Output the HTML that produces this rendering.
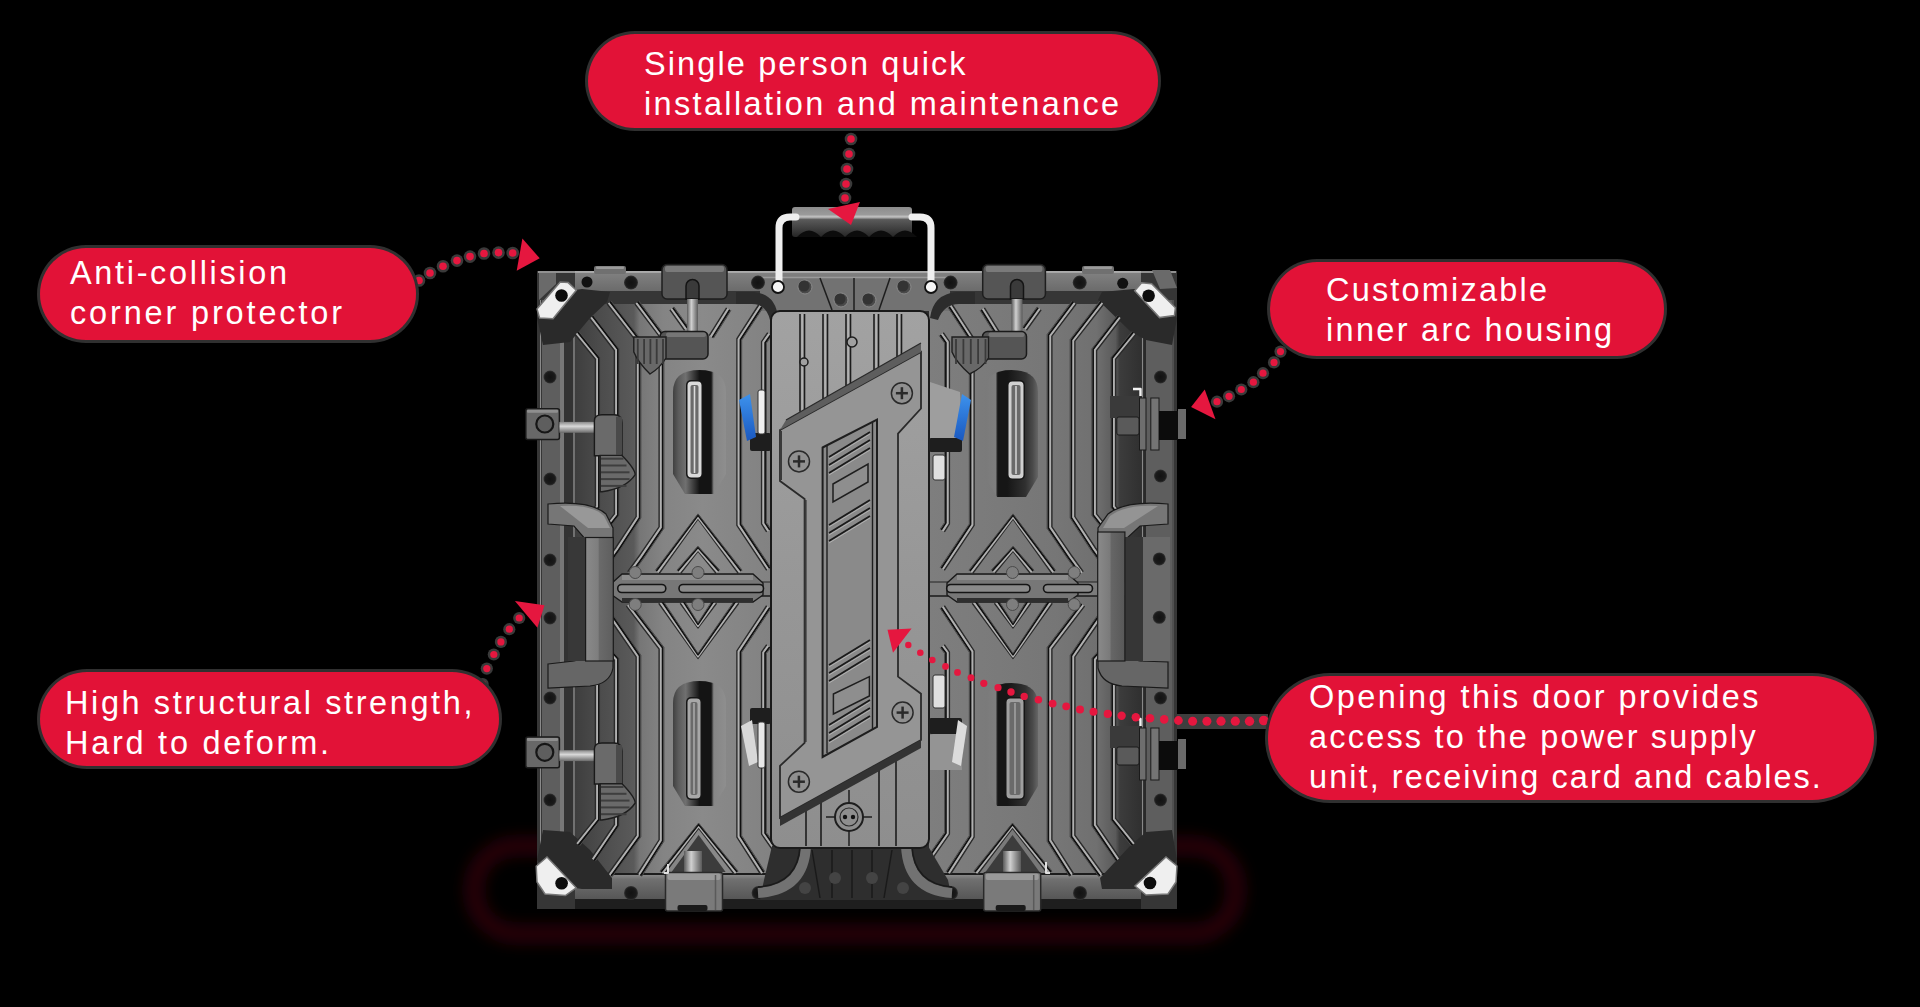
<!DOCTYPE html>
<html><head><meta charset="utf-8">
<style>
html,body{margin:0;padding:0;background:#000;width:1920px;height:1007px;overflow:hidden;}
#stage{position:relative;width:1920px;height:1007px;background:#000;}
svg{position:absolute;left:0;top:0;}
.pill{position:absolute;background:#e21237;border-radius:999px;box-shadow:0 0 0 3px #303030;}
.t{position:absolute;font-family:"Liberation Sans",sans-serif;font-size:32.5px;color:#fff;white-space:pre;line-height:40px;}
.t div{height:40px;}
</style></head><body><div id="stage">
<svg width="1920" height="1007" viewBox="0 0 1920 1007">
<defs>
<filter id="glow" x="-30%" y="-100%" width="160%" height="300%"><feGaussianBlur stdDeviation="9"/></filter>
<filter id="b1" x="-20%" y="-20%" width="140%" height="140%"><feGaussianBlur stdDeviation="1.2"/></filter>
<filter id="b2" x="-30%" y="-30%" width="160%" height="160%"><feGaussianBlur stdDeviation="2.5"/></filter>
<filter id="b4" x="-30%" y="-30%" width="160%" height="160%"><feGaussianBlur stdDeviation="5"/></filter>
<linearGradient id="doorg" x1="0" y1="0" x2="0" y2="1"><stop offset="0" stop-color="#a2a2a2"/><stop offset="0.5" stop-color="#979797"/><stop offset="1" stop-color="#8e8e8e"/></linearGradient>
<linearGradient id="panelL" x1="575" y1="0" x2="771" y2="0" gradientUnits="userSpaceOnUse"><stop offset="0" stop-color="#3e3e3e"/><stop offset="0.13" stop-color="#4c4c4c"/><stop offset="0.3" stop-color="#5a5a5a"/><stop offset="0.33" stop-color="#767676"/><stop offset="0.45" stop-color="#848484"/><stop offset="0.65" stop-color="#8a8a8a"/><stop offset="1" stop-color="#828282"/></linearGradient>
<linearGradient id="panelR" x1="929" y1="0" x2="1141" y2="0" gradientUnits="userSpaceOnUse"><stop offset="0" stop-color="#7e7e7e"/><stop offset="0.33" stop-color="#7a7a7a"/><stop offset="0.6" stop-color="#767676"/><stop offset="0.79" stop-color="#707070"/><stop offset="0.83" stop-color="#666"/><stop offset="0.88" stop-color="#5a5a5a"/><stop offset="0.9" stop-color="#3c3c3c"/><stop offset="1" stop-color="#303030"/></linearGradient>
<linearGradient id="railT" x1="0" y1="0" x2="0" y2="1"><stop offset="0" stop-color="#a6a6a6"/><stop offset="0.1" stop-color="#808080"/><stop offset="1" stop-color="#6a6a6a"/></linearGradient>
<linearGradient id="railB" x1="0" y1="0" x2="0" y2="1"><stop offset="0" stop-color="#8e8e8e"/><stop offset="0.2" stop-color="#707070"/><stop offset="1" stop-color="#555"/></linearGradient>
<linearGradient id="hbar" x1="0" y1="0" x2="0" y2="1"><stop offset="0" stop-color="#8c8c8c"/><stop offset="0.25" stop-color="#9a9a9a"/><stop offset="0.33" stop-color="#c4c4c4"/><stop offset="0.42" stop-color="#5a5a5a"/><stop offset="1" stop-color="#262626"/></linearGradient>
<linearGradient id="blue" x1="0" y1="0" x2="0" y2="1"><stop offset="0" stop-color="#3d92ec"/><stop offset="1" stop-color="#1a58c0"/></linearGradient>
<linearGradient id="slotL" x1="0" y1="0" x2="1" y2="0"><stop offset="0" stop-color="#404040"/><stop offset="0.1" stop-color="#5a5a5a"/><stop offset="0.24" stop-color="#707070"/><stop offset="0.5" stop-color="#141414"/><stop offset="0.72" stop-color="#141414"/><stop offset="0.77" stop-color="#868686"/><stop offset="1" stop-color="#8e8e8e"/></linearGradient>
<linearGradient id="slotR" x1="0" y1="0" x2="1" y2="0"><stop offset="0" stop-color="#7a7a7a"/><stop offset="0.2" stop-color="#7e7e7e"/><stop offset="0.24" stop-color="#161616"/><stop offset="0.42" stop-color="#161616"/><stop offset="0.76" stop-color="#303030"/><stop offset="0.9" stop-color="#4a4a4a"/><stop offset="1" stop-color="#666"/></linearGradient>
<linearGradient id="cyl" x1="0" y1="0" x2="1" y2="0"><stop offset="0" stop-color="#5a5a5a"/><stop offset="0.4" stop-color="#d0d0d0"/><stop offset="1" stop-color="#5a5a5a"/></linearGradient>
<linearGradient id="cylV" x1="0" y1="0" x2="0" y2="1"><stop offset="0" stop-color="#8a8a8a"/><stop offset="0.4" stop-color="#d8d8d8"/><stop offset="1" stop-color="#6a6a6a"/></linearGradient>
<linearGradient id="hgripL" x1="0" y1="0" x2="1" y2="0"><stop offset="0" stop-color="#8a8a8a"/><stop offset="0.45" stop-color="#7e7e7e"/><stop offset="0.5" stop-color="#6a6a6a"/><stop offset="1" stop-color="#5e5e5e"/></linearGradient>
<linearGradient id="hgripR" x1="0" y1="0" x2="1" y2="0"><stop offset="0" stop-color="#8a8a8a"/><stop offset="0.45" stop-color="#7a7a7a"/><stop offset="0.5" stop-color="#666"/><stop offset="1" stop-color="#585858"/></linearGradient>
<radialGradient id="hole"><stop offset="0" stop-color="#121212"/><stop offset="0.75" stop-color="#1a1a1a"/><stop offset="1" stop-color="#333"/></radialGradient>
</defs>
<rect x="474" y="846" width="762" height="88" rx="42" fill="none" stroke="#6a0016" stroke-width="12" opacity="0.6" filter="url(#glow)"/>
<rect x="537" y="271" width="640" height="638" rx="0" fill="#2e2e2e" />
<rect x="575" y="292" width="197" height="584" rx="0" fill="url(#panelL)" />
<rect x="929" y="292" width="212" height="584" rx="0" fill="url(#panelR)" />
<rect x="537" y="271" width="640" height="21" rx="0" fill="url(#railT)" />
<rect x="575" y="291" width="566" height="13" rx="0" fill="#363636" />
<rect x="537" y="874" width="640" height="26" rx="0" fill="url(#railB)" />
<rect x="537" y="899" width="640" height="10" rx="0" fill="#1e1e1e" />
<polyline points="575,874 1141,874" fill="none" stroke="#1c1c1c" stroke-width="2" stroke-linejoin="round" />
<rect x="537" y="271" width="38" height="638" rx="0" fill="#363636" />
<rect x="542" y="300" width="18" height="572" rx="0" fill="#5e5e5e" />
<rect x="560" y="300" width="4" height="572" rx="0" fill="#787878" />
<rect x="564" y="300" width="9" height="572" rx="0" fill="#333" />
<polyline points="540.5,300 540.5,870" fill="none" stroke="#8a8a8a" stroke-width="1" stroke-linejoin="round" />
<polyline points="574,300 574,872" fill="none" stroke="#9a9a9a" stroke-width="1.2" stroke-linejoin="round" />
<rect x="1141" y="271" width="36" height="638" rx="0" fill="#363636" />
<rect x="1146" y="300" width="26" height="572" rx="0" fill="#5e5e5e" />
<rect x="1141" y="300" width="5" height="572" rx="0" fill="#2a2a2a" />
<polyline points="1142.5,300 1142.5,872" fill="none" stroke="#888" stroke-width="1.2" stroke-linejoin="round" />
<polyline points="1173,300 1173,872" fill="none" stroke="#6a6a6a" stroke-width="1" stroke-linejoin="round" />
<polyline points="538,272 1176,272" fill="none" stroke="#b0b0b0" stroke-width="1.5" stroke-linejoin="round" />
<rect x="594" y="266" width="32" height="8" rx="2" fill="#707070" />
<rect x="596" y="266.5" width="28" height="2.5" rx="1" fill="#9a9a9a" />
<rect x="1082" y="266" width="32" height="8" rx="2" fill="#707070" />
<rect x="1084" y="266.5" width="28" height="2.5" rx="1" fill="#9a9a9a" />
<rect x="760" y="277" width="190" height="34" rx="0" fill="#727272" />
<polyline points="760,277.5 950,277.5" fill="none" stroke="#9a9a9a" stroke-width="1.5" stroke-linejoin="round" />
<path d="M 736 292 L 754 292 Q 776 294 778 318 L 770 320 Q 766 304 752 304 L 736 304 Z" fill="#2c2c2c" stroke="none" stroke-width="0" />
<path d="M 975 292 L 957 292 Q 933 294 930 318 L 938 320 Q 944 304 959 304 L 975 304 Z" fill="#2c2c2c" stroke="none" stroke-width="0" />
<polygon points="537,318 562,292 582,289 610,292 607,302 590,318 570,342 543,345" fill="#2a2a2a" />
<polygon points="1177,318 1152,292 1134,289 1102,292 1098,300 1130,331 1146,340 1172,345" fill="#2a2a2a" />
<polygon points="537,860 562,886 582,889 612,889 612,878 590,850 570,832 543,830" fill="#2a2a2a" />
<polygon points="1177,860 1152,886 1134,889 1102,889 1100,878 1130,846 1146,832 1172,830" fill="#2a2a2a" />
<polyline points="575.2,334.6 595.5,359.3 595.5,505.9 585.8,517.8" fill="none" stroke="#2a2a2a" stroke-width="1.6" stroke-linejoin="round" />
<polyline points="576.6,333.4 597.2,358.7 597.2,506.5 587.2,518.9" fill="none" stroke="#b0b0b0" stroke-width="2.1" stroke-linejoin="round" />
<polyline points="577.9,332.3 598.9,358.1 598.9,507.1 588.6,520.1" fill="none" stroke="#101010" stroke-width="1.7" stroke-linejoin="round" />
<polyline points="579,331.5 600.1,357.6 600.1,507.5 589.6,520.9" fill="none" stroke="#4a4a4a" stroke-width="1.0" stroke-linejoin="round" />
<polyline points="1135.8,334.6 1115.5,359.3 1115.5,505.9 1125.2,517.8" fill="none" stroke="#2a2a2a" stroke-width="1.6" stroke-linejoin="round" />
<polyline points="1134.4,333.4 1113.8,358.7 1113.8,506.5 1123.8,518.9" fill="none" stroke="#b0b0b0" stroke-width="2.1" stroke-linejoin="round" />
<polyline points="1133.1,332.3 1112.1,358.1 1112.1,507.1 1122.4,520.1" fill="none" stroke="#101010" stroke-width="1.7" stroke-linejoin="round" />
<polyline points="1132,331.5 1110.9,357.6 1110.9,507.5 1121.4,520.9" fill="none" stroke="#4a4a4a" stroke-width="1.0" stroke-linejoin="round" />
<polyline points="589.8,318.5 614.5,350.5 614.5,513.9 601.8,529.8" fill="none" stroke="#2a2a2a" stroke-width="1.6" stroke-linejoin="round" />
<polyline points="591.2,317.4 616.2,349.9 616.2,514.5 603.2,530.9" fill="none" stroke="#b0b0b0" stroke-width="2.1" stroke-linejoin="round" />
<polyline points="592.6,316.3 617.9,349.3 617.9,515.1 604.6,532.1" fill="none" stroke="#101010" stroke-width="1.7" stroke-linejoin="round" />
<polyline points="593.6,315.5 619.2,348.9 619.1,515.5 605.6,532.9" fill="none" stroke="#4a4a4a" stroke-width="1.0" stroke-linejoin="round" />
<polyline points="1121.2,318.5 1096.5,350.5 1096.5,513.9 1109.2,529.8" fill="none" stroke="#2a2a2a" stroke-width="1.6" stroke-linejoin="round" />
<polyline points="1119.8,317.4 1094.8,349.9 1094.8,514.5 1107.8,530.9" fill="none" stroke="#b0b0b0" stroke-width="2.1" stroke-linejoin="round" />
<polyline points="1118.4,316.3 1093.1,349.3 1093.1,515.1 1106.4,532.1" fill="none" stroke="#101010" stroke-width="1.7" stroke-linejoin="round" />
<polyline points="1117.4,315.5 1091.8,348.9 1091.9,515.5 1105.4,532.9" fill="none" stroke="#4a4a4a" stroke-width="1.0" stroke-linejoin="round" />
<polyline points="607.3,303.9 636.2,341.1 636.2,516.6 615.8,547.8 602.8,565.8" fill="none" stroke="#2a2a2a" stroke-width="1.6" stroke-linejoin="round" />
<polyline points="608.7,302.8 637.9,340.5 637.9,517.1 617.2,548.9 604.2,566.9" fill="none" stroke="#b0b0b0" stroke-width="2.1" stroke-linejoin="round" />
<polyline points="610.1,301.7 639.6,339.9 639.7,517.6 618.7,549.9 605.7,567.9" fill="none" stroke="#101010" stroke-width="1.7" stroke-linejoin="round" />
<polyline points="611.1,300.9 640.9,339.5 640.9,518 619.8,550.6 606.7,568.7" fill="none" stroke="#4a4a4a" stroke-width="1.0" stroke-linejoin="round" />
<polyline points="1103.7,303.9 1074.8,341.1 1074.8,516.6 1095.2,547.8 1108.2,565.8" fill="none" stroke="#2a2a2a" stroke-width="1.6" stroke-linejoin="round" />
<polyline points="1102.3,302.8 1073.1,340.5 1073.1,517.1 1093.8,548.9 1106.8,566.9" fill="none" stroke="#b0b0b0" stroke-width="2.1" stroke-linejoin="round" />
<polyline points="1100.9,301.7 1071.4,339.9 1071.3,517.6 1092.3,549.9 1105.3,567.9" fill="none" stroke="#101010" stroke-width="1.7" stroke-linejoin="round" />
<polyline points="1099.9,300.9 1070.1,339.5 1070.1,518 1091.2,550.6 1104.3,568.7" fill="none" stroke="#4a4a4a" stroke-width="1.0" stroke-linejoin="round" />
<polyline points="635,303.9 659.2,336.1 659.2,526.9 639.8,555.3 627.8,571.8" fill="none" stroke="#2a2a2a" stroke-width="1.6" stroke-linejoin="round" />
<polyline points="636.4,302.8 660.9,335.5 660.9,527.4 641.2,556.4 629.2,572.9" fill="none" stroke="#b0b0b0" stroke-width="2.1" stroke-linejoin="round" />
<polyline points="637.8,301.7 662.6,335 662.7,528 642.7,557.4 630.7,573.9" fill="none" stroke="#101010" stroke-width="1.7" stroke-linejoin="round" />
<polyline points="638.9,300.9 663.9,334.5 663.9,528.4 643.8,558.2 631.7,574.7" fill="none" stroke="#4a4a4a" stroke-width="1.0" stroke-linejoin="round" />
<polyline points="1076,303.9 1051.8,336.1 1051.8,526.9 1071.2,555.3 1083.2,571.8" fill="none" stroke="#2a2a2a" stroke-width="1.6" stroke-linejoin="round" />
<polyline points="1074.6,302.8 1050.1,335.5 1050.1,527.4 1069.8,556.4 1081.8,572.9" fill="none" stroke="#b0b0b0" stroke-width="2.1" stroke-linejoin="round" />
<polyline points="1073.2,301.7 1048.4,335 1048.3,528 1068.3,557.4 1080.3,573.9" fill="none" stroke="#101010" stroke-width="1.7" stroke-linejoin="round" />
<polyline points="1072.1,300.9 1047.1,334.5 1047.1,528.4 1067.2,558.2 1079.3,574.7" fill="none" stroke="#4a4a4a" stroke-width="1.0" stroke-linejoin="round" />
<polyline points="670,309.8 684.6,330.2" fill="none" stroke="#2a2a2a" stroke-width="1.6" stroke-linejoin="round" />
<polyline points="671.4,308.7 686,329.1" fill="none" stroke="#b0b0b0" stroke-width="2.1" stroke-linejoin="round" />
<polyline points="672.9,307.7 687.5,328.1" fill="none" stroke="#101010" stroke-width="1.7" stroke-linejoin="round" />
<polyline points="673.9,306.9 688.5,327.3" fill="none" stroke="#4a4a4a" stroke-width="1.0" stroke-linejoin="round" />
<polyline points="1041,309.8 1026.4,330.2" fill="none" stroke="#2a2a2a" stroke-width="1.6" stroke-linejoin="round" />
<polyline points="1039.6,308.7 1025,329.1" fill="none" stroke="#b0b0b0" stroke-width="2.1" stroke-linejoin="round" />
<polyline points="1038.1,307.7 1023.5,328.1" fill="none" stroke="#101010" stroke-width="1.7" stroke-linejoin="round" />
<polyline points="1037.1,306.9 1022.5,327.3" fill="none" stroke="#4a4a4a" stroke-width="1.0" stroke-linejoin="round" />
<polyline points="726.7,307.8 709.3,335.6" fill="none" stroke="#2a2a2a" stroke-width="1.6" stroke-linejoin="round" />
<polyline points="728.3,308.8 710.9,336.6" fill="none" stroke="#b0b0b0" stroke-width="2.1" stroke-linejoin="round" />
<polyline points="729.8,309.8 712.4,337.6" fill="none" stroke="#101010" stroke-width="1.7" stroke-linejoin="round" />
<polyline points="730.9,310.4 713.5,338.2" fill="none" stroke="#4a4a4a" stroke-width="1.0" stroke-linejoin="round" />
<polyline points="984.3,307.8 1001.7,335.6" fill="none" stroke="#2a2a2a" stroke-width="1.6" stroke-linejoin="round" />
<polyline points="982.7,308.8 1000.1,336.6" fill="none" stroke="#b0b0b0" stroke-width="2.1" stroke-linejoin="round" />
<polyline points="981.2,309.8 998.6,337.6" fill="none" stroke="#101010" stroke-width="1.7" stroke-linejoin="round" />
<polyline points="980.1,310.4 997.5,338.2" fill="none" stroke="#4a4a4a" stroke-width="1.0" stroke-linejoin="round" />
<polyline points="758.7,305 737,338.7 737,525.4 766.8,570.2" fill="none" stroke="#2a2a2a" stroke-width="1.6" stroke-linejoin="round" />
<polyline points="760.3,306 738.7,339.2 738.7,524.9 768.2,569.2" fill="none" stroke="#b0b0b0" stroke-width="2.1" stroke-linejoin="round" />
<polyline points="761.8,307 740.5,339.7 740.5,524.3 769.7,568.2" fill="none" stroke="#101010" stroke-width="1.7" stroke-linejoin="round" />
<polyline points="762.9,307.7 741.7,340.1 741.7,524 770.8,567.5" fill="none" stroke="#4a4a4a" stroke-width="1.0" stroke-linejoin="round" />
<polyline points="952.3,305 974,338.7 974,525.4 944.2,570.2" fill="none" stroke="#2a2a2a" stroke-width="1.6" stroke-linejoin="round" />
<polyline points="950.7,306 972.3,339.2 972.3,524.9 942.8,569.2" fill="none" stroke="#b0b0b0" stroke-width="2.1" stroke-linejoin="round" />
<polyline points="949.2,307 970.5,339.7 970.5,524.3 941.3,568.2" fill="none" stroke="#101010" stroke-width="1.7" stroke-linejoin="round" />
<polyline points="948.1,307.7 969.3,340.1 969.3,524 940.2,567.5" fill="none" stroke="#4a4a4a" stroke-width="1.0" stroke-linejoin="round" />
<polyline points="767.8,332.8 761.7,341.6 761.7,523.9 766.7,531.9" fill="none" stroke="#2a2a2a" stroke-width="1.6" stroke-linejoin="round" />
<polyline points="769.2,333.9 763.4,342.1 763.4,523.4 768.3,530.9" fill="none" stroke="#b0b0b0" stroke-width="2.1" stroke-linejoin="round" />
<polyline points="770.7,334.9 765.2,342.7 765.2,522.9 769.8,529.9" fill="none" stroke="#101010" stroke-width="1.7" stroke-linejoin="round" />
<polyline points="771.8,335.6 766.4,343.1 766.4,522.5 770.9,529.2" fill="none" stroke="#4a4a4a" stroke-width="1.0" stroke-linejoin="round" />
<polyline points="943.2,332.8 949.3,341.6 949.3,523.9 944.3,531.9" fill="none" stroke="#2a2a2a" stroke-width="1.6" stroke-linejoin="round" />
<polyline points="941.8,333.9 947.6,342.1 947.6,523.4 942.7,530.9" fill="none" stroke="#b0b0b0" stroke-width="2.1" stroke-linejoin="round" />
<polyline points="940.3,334.9 945.8,342.7 945.8,522.9 941.2,529.9" fill="none" stroke="#101010" stroke-width="1.7" stroke-linejoin="round" />
<polyline points="939.2,335.6 944.6,343.1 944.6,522.5 940.1,529.2" fill="none" stroke="#4a4a4a" stroke-width="1.0" stroke-linejoin="round" />
<polyline points="583.8,672.2 595.5,686.1 595.5,818.4 575.8,842.8" fill="none" stroke="#2a2a2a" stroke-width="1.6" stroke-linejoin="round" />
<polyline points="585.1,671 597.2,685.5 597.2,819 577.2,843.9" fill="none" stroke="#b0b0b0" stroke-width="2.1" stroke-linejoin="round" />
<polyline points="586.5,669.9 598.9,684.9 598.9,819.6 578.6,845.1" fill="none" stroke="#101010" stroke-width="1.7" stroke-linejoin="round" />
<polyline points="587.5,669 600.1,684.4 600.1,820 579.6,845.9" fill="none" stroke="#4a4a4a" stroke-width="1.0" stroke-linejoin="round" />
<polyline points="1127.2,672.2 1115.5,686.1 1115.5,818.4 1135.2,842.8" fill="none" stroke="#2a2a2a" stroke-width="1.6" stroke-linejoin="round" />
<polyline points="1125.9,671 1113.8,685.5 1113.8,819 1133.8,843.9" fill="none" stroke="#b0b0b0" stroke-width="2.1" stroke-linejoin="round" />
<polyline points="1124.5,669.9 1112.1,684.9 1112.1,819.6 1132.4,845.1" fill="none" stroke="#101010" stroke-width="1.7" stroke-linejoin="round" />
<polyline points="1123.5,669 1110.9,684.4 1110.9,820 1131.4,845.9" fill="none" stroke="#4a4a4a" stroke-width="1.0" stroke-linejoin="round" />
<polyline points="601.8,646.2 614.5,660.1 614.5,824.5 591.4,858.3" fill="none" stroke="#2a2a2a" stroke-width="1.6" stroke-linejoin="round" />
<polyline points="603.1,645 616.2,659.5 616.2,825 592.8,859.3" fill="none" stroke="#b0b0b0" stroke-width="2.1" stroke-linejoin="round" />
<polyline points="604.4,643.8 617.9,658.8 618,825.6 594.3,860.4" fill="none" stroke="#101010" stroke-width="1.7" stroke-linejoin="round" />
<polyline points="605.4,642.9 619.1,658.3 619.2,826 595.4,861.1" fill="none" stroke="#4a4a4a" stroke-width="1.0" stroke-linejoin="round" />
<polyline points="1109.2,646.2 1096.5,660.1 1096.5,824.5 1119.6,858.3" fill="none" stroke="#2a2a2a" stroke-width="1.6" stroke-linejoin="round" />
<polyline points="1107.9,645 1094.8,659.5 1094.8,825 1118.2,859.3" fill="none" stroke="#b0b0b0" stroke-width="2.1" stroke-linejoin="round" />
<polyline points="1106.6,643.8 1093.1,658.8 1093,825.6 1116.7,860.4" fill="none" stroke="#101010" stroke-width="1.7" stroke-linejoin="round" />
<polyline points="1105.6,642.9 1091.9,658.3 1091.8,826 1115.6,861.1" fill="none" stroke="#4a4a4a" stroke-width="1.0" stroke-linejoin="round" />
<polyline points="603.8,610.2 615.4,626.7 636.2,656.8 636.2,835.3 608.3,873.8" fill="none" stroke="#2a2a2a" stroke-width="1.6" stroke-linejoin="round" />
<polyline points="605.2,609.1 616.8,625.6 637.9,656.3 637.9,835.9 609.7,874.9" fill="none" stroke="#b0b0b0" stroke-width="2.1" stroke-linejoin="round" />
<polyline points="606.7,608.1 618.3,624.6 639.6,655.7 639.6,836.4 611.2,875.9" fill="none" stroke="#101010" stroke-width="1.7" stroke-linejoin="round" />
<polyline points="607.8,607.4 619.4,623.9 640.9,655.3 640.9,836.8 612.2,876.7" fill="none" stroke="#4a4a4a" stroke-width="1.0" stroke-linejoin="round" />
<polyline points="1107.2,610.2 1095.6,626.7 1074.8,656.8 1074.8,835.3 1102.7,873.8" fill="none" stroke="#2a2a2a" stroke-width="1.6" stroke-linejoin="round" />
<polyline points="1105.8,609.1 1094.2,625.6 1073.1,656.3 1073.1,835.9 1101.3,874.9" fill="none" stroke="#b0b0b0" stroke-width="2.1" stroke-linejoin="round" />
<polyline points="1104.3,608.1 1092.7,624.6 1071.4,655.7 1071.4,836.4 1099.8,875.9" fill="none" stroke="#101010" stroke-width="1.7" stroke-linejoin="round" />
<polyline points="1103.2,607.4 1091.6,623.9 1070.1,655.3 1070.1,836.8 1098.8,876.7" fill="none" stroke="#4a4a4a" stroke-width="1.0" stroke-linejoin="round" />
<polyline points="626.5,606.1 659.2,648.9 659.2,839.9 637.5,873.8" fill="none" stroke="#2a2a2a" stroke-width="1.6" stroke-linejoin="round" />
<polyline points="627.9,605 660.9,648.3 660.9,840.4 639.1,874.8" fill="none" stroke="#b0b0b0" stroke-width="2.1" stroke-linejoin="round" />
<polyline points="629.3,603.9 662.6,647.7 662.7,840.9 640.6,875.8" fill="none" stroke="#101010" stroke-width="1.7" stroke-linejoin="round" />
<polyline points="630.4,603.1 663.9,647.3 663.9,841.3 641.7,876.5" fill="none" stroke="#4a4a4a" stroke-width="1.0" stroke-linejoin="round" />
<polyline points="1084.5,606.1 1051.8,648.9 1051.8,839.9 1073.5,873.8" fill="none" stroke="#2a2a2a" stroke-width="1.6" stroke-linejoin="round" />
<polyline points="1083.1,605 1050.1,648.3 1050.1,840.4 1071.9,874.8" fill="none" stroke="#b0b0b0" stroke-width="2.1" stroke-linejoin="round" />
<polyline points="1081.7,603.9 1048.4,647.7 1048.3,840.9 1070.4,875.8" fill="none" stroke="#101010" stroke-width="1.7" stroke-linejoin="round" />
<polyline points="1080.6,603.1 1047.1,647.3 1047.1,841.3 1069.3,876.5" fill="none" stroke="#4a4a4a" stroke-width="1.0" stroke-linejoin="round" />
<polyline points="766.7,605.8 737,650.9 737,837.1 760.7,874.2" fill="none" stroke="#2a2a2a" stroke-width="1.6" stroke-linejoin="round" />
<polyline points="768.3,606.8 738.7,651.4 738.7,836.6 762.3,873.2" fill="none" stroke="#b0b0b0" stroke-width="2.1" stroke-linejoin="round" />
<polyline points="769.8,607.8 740.5,651.9 740.5,836.1 763.8,872.2" fill="none" stroke="#101010" stroke-width="1.7" stroke-linejoin="round" />
<polyline points="770.8,608.5 741.7,652.3 741.7,835.7 764.9,871.5" fill="none" stroke="#4a4a4a" stroke-width="1.0" stroke-linejoin="round" />
<polyline points="944.3,605.8 974,650.9 974,837.1 950.3,874.2" fill="none" stroke="#2a2a2a" stroke-width="1.6" stroke-linejoin="round" />
<polyline points="942.7,606.8 972.3,651.4 972.3,836.6 948.7,873.2" fill="none" stroke="#b0b0b0" stroke-width="2.1" stroke-linejoin="round" />
<polyline points="941.2,607.8 970.5,651.9 970.5,836.1 947.2,872.2" fill="none" stroke="#101010" stroke-width="1.7" stroke-linejoin="round" />
<polyline points="940.2,608.5 969.3,652.3 969.3,835.7 946.1,871.5" fill="none" stroke="#4a4a4a" stroke-width="1.0" stroke-linejoin="round" />
<polyline points="766.8,644.8 761.7,651.9 761.7,834.1 785.3,868" fill="none" stroke="#2a2a2a" stroke-width="1.6" stroke-linejoin="round" />
<polyline points="768.2,645.9 763.4,652.5 763.4,833.6 786.7,866.9" fill="none" stroke="#b0b0b0" stroke-width="2.1" stroke-linejoin="round" />
<polyline points="769.7,646.9 765.1,653 765.1,833 788.2,865.9" fill="none" stroke="#101010" stroke-width="1.7" stroke-linejoin="round" />
<polyline points="770.7,647.7 766.4,653.4 766.4,832.6 789.3,865.2" fill="none" stroke="#4a4a4a" stroke-width="1.0" stroke-linejoin="round" />
<polyline points="944.2,644.8 949.3,651.9 949.3,834.1 925.7,868" fill="none" stroke="#2a2a2a" stroke-width="1.6" stroke-linejoin="round" />
<polyline points="942.8,645.9 947.6,652.5 947.6,833.6 924.3,866.9" fill="none" stroke="#b0b0b0" stroke-width="2.1" stroke-linejoin="round" />
<polyline points="941.3,646.9 945.9,653 945.9,833 922.8,865.9" fill="none" stroke="#101010" stroke-width="1.7" stroke-linejoin="round" />
<polyline points="940.3,647.7 944.6,653.4 944.6,832.6 921.7,865.2" fill="none" stroke="#4a4a4a" stroke-width="1.0" stroke-linejoin="round" />
<polyline points="659.2,573.2 698,518.8 738.3,573.2" fill="none" stroke="#2a2a2a" stroke-width="1.6" stroke-linejoin="round" />
<polyline points="657.8,572.1 698,517 739.7,572.1" fill="none" stroke="#b0b0b0" stroke-width="2.1" stroke-linejoin="round" />
<polyline points="656.3,571.1 698,515.2 741.1,571" fill="none" stroke="#101010" stroke-width="1.7" stroke-linejoin="round" />
<polyline points="655.3,570.3 698,513.9 742.2,570.3" fill="none" stroke="#4a4a4a" stroke-width="1.0" stroke-linejoin="round" />
<polyline points="1051.8,573.2 1013,518.8 972.7,573.2" fill="none" stroke="#2a2a2a" stroke-width="1.6" stroke-linejoin="round" />
<polyline points="1053.2,572.1 1013,517 971.3,572.1" fill="none" stroke="#b0b0b0" stroke-width="2.1" stroke-linejoin="round" />
<polyline points="1054.7,571.1 1013,515.2 969.9,571" fill="none" stroke="#101010" stroke-width="1.7" stroke-linejoin="round" />
<polyline points="1055.7,570.3 1013,513.9 968.8,570.3" fill="none" stroke="#4a4a4a" stroke-width="1.0" stroke-linejoin="round" />
<polyline points="680.7,573.2 698,551.1 716.1,573.2" fill="none" stroke="#2a2a2a" stroke-width="1.6" stroke-linejoin="round" />
<polyline points="679.3,572.1 698,549.3 717.5,572" fill="none" stroke="#b0b0b0" stroke-width="2.1" stroke-linejoin="round" />
<polyline points="677.9,571 698,547.5 718.8,570.9" fill="none" stroke="#101010" stroke-width="1.7" stroke-linejoin="round" />
<polyline points="676.9,570.2 697.9,546.2 719.8,570.1" fill="none" stroke="#4a4a4a" stroke-width="1.0" stroke-linejoin="round" />
<polyline points="1030.3,573.2 1013,551.1 994.9,573.2" fill="none" stroke="#2a2a2a" stroke-width="1.6" stroke-linejoin="round" />
<polyline points="1031.7,572.1 1013,549.3 993.5,572" fill="none" stroke="#b0b0b0" stroke-width="2.1" stroke-linejoin="round" />
<polyline points="1033.1,571 1013,547.5 992.2,570.9" fill="none" stroke="#101010" stroke-width="1.7" stroke-linejoin="round" />
<polyline points="1034.1,570.2 1013.1,546.2 991.2,570.1" fill="none" stroke="#4a4a4a" stroke-width="1.0" stroke-linejoin="round" />
<polyline points="658.8,603.2 698,658.3 738.7,603.2" fill="none" stroke="#2a2a2a" stroke-width="1.6" stroke-linejoin="round" />
<polyline points="660.2,602.1 698,656.5 737.3,602.1" fill="none" stroke="#b0b0b0" stroke-width="2.1" stroke-linejoin="round" />
<polyline points="661.7,601.1 698,654.7 735.8,601" fill="none" stroke="#101010" stroke-width="1.7" stroke-linejoin="round" />
<polyline points="662.8,600.3 698,653.4 734.8,600.3" fill="none" stroke="#4a4a4a" stroke-width="1.0" stroke-linejoin="round" />
<polyline points="1052.2,603.2 1013,658.3 972.3,603.2" fill="none" stroke="#2a2a2a" stroke-width="1.6" stroke-linejoin="round" />
<polyline points="1050.8,602.1 1013,656.5 973.7,602.1" fill="none" stroke="#b0b0b0" stroke-width="2.1" stroke-linejoin="round" />
<polyline points="1049.3,601.1 1013,654.7 975.2,601" fill="none" stroke="#101010" stroke-width="1.7" stroke-linejoin="round" />
<polyline points="1048.2,600.3 1013,653.4 976.2,600.3" fill="none" stroke="#4a4a4a" stroke-width="1.0" stroke-linejoin="round" />
<polyline points="680.3,603.2 698,627.8 716.5,603.2" fill="none" stroke="#2a2a2a" stroke-width="1.6" stroke-linejoin="round" />
<polyline points="681.7,602.1 698,626 715.1,602.1" fill="none" stroke="#b0b0b0" stroke-width="2.1" stroke-linejoin="round" />
<polyline points="683.2,601.1 698,624.2 713.7,601" fill="none" stroke="#101010" stroke-width="1.7" stroke-linejoin="round" />
<polyline points="684.2,600.3 698,622.9 712.6,600.2" fill="none" stroke="#4a4a4a" stroke-width="1.0" stroke-linejoin="round" />
<polyline points="1030.7,603.2 1013,627.8 994.5,603.2" fill="none" stroke="#2a2a2a" stroke-width="1.6" stroke-linejoin="round" />
<polyline points="1029.3,602.1 1013,626 995.9,602.1" fill="none" stroke="#b0b0b0" stroke-width="2.1" stroke-linejoin="round" />
<polyline points="1027.8,601.1 1013,624.2 997.3,601" fill="none" stroke="#101010" stroke-width="1.7" stroke-linejoin="round" />
<polyline points="1026.8,600.3 1013,622.9 998.4,600.2" fill="none" stroke="#4a4a4a" stroke-width="1.0" stroke-linejoin="round" />
<rect x="568" y="582" width="202" height="14" rx="0" fill="#7c7c7c" />
<polyline points="568,582 770,582" fill="none" stroke="#222" stroke-width="1.2" stroke-linejoin="round" />
<polyline points="568,596 770,596" fill="none" stroke="#1a1a1a" stroke-width="1.6" stroke-linejoin="round" />
<polygon points="612,583 622,574 753,574 763,583 763,595 753,602 622,602 612,595" fill="#777" stroke="#1a1a1a" stroke-width="1.4"/>
<rect x="622" y="575" width="131" height="5" rx="0" fill="#8c8c8c" />
<polygon points="622,598 753,598 753,602 622,602" fill="#2e2e2e" />
<rect x="617.7" y="584.5" width="48.1" height="8" rx="4" fill="#8a8a8a" stroke="#141414" stroke-width="1.6"/>
<rect x="679" y="584.5" width="84.5" height="8" rx="4" fill="#8a8a8a" stroke="#141414" stroke-width="1.6"/>
<circle cx="635.2" cy="572.5" r="6" fill="#7e7e7e" stroke="#4a4a4a" stroke-width="1"/>
<circle cx="635.2" cy="604.5" r="6" fill="#7e7e7e" stroke="#4a4a4a" stroke-width="1"/>
<circle cx="698" cy="572.5" r="6" fill="#7e7e7e" stroke="#4a4a4a" stroke-width="1"/>
<circle cx="698" cy="604.5" r="6" fill="#7e7e7e" stroke="#4a4a4a" stroke-width="1"/>
<rect x="930" y="582" width="213" height="14" rx="0" fill="#7c7c7c" />
<polyline points="930,582 1143,582" fill="none" stroke="#222" stroke-width="1.2" stroke-linejoin="round" />
<polyline points="930,596 1143,596" fill="none" stroke="#1a1a1a" stroke-width="1.6" stroke-linejoin="round" />
<polygon points="947,583 957,574 1068,574 1078,583 1078,595 1068,602 957,602 947,595" fill="#777" stroke="#1a1a1a" stroke-width="1.4"/>
<rect x="957" y="575" width="111" height="5" rx="0" fill="#8c8c8c" />
<polygon points="957,598 1068,598 1068,602 957,602" fill="#2e2e2e" />
<rect x="946.7" y="584.5" width="83.3" height="8" rx="4" fill="#8a8a8a" stroke="#141414" stroke-width="1.6"/>
<rect x="1043.5" y="584.5" width="49" height="8" rx="4" fill="#8a8a8a" stroke="#141414" stroke-width="1.6"/>
<circle cx="1012.5" cy="572.5" r="6" fill="#7e7e7e" stroke="#4a4a4a" stroke-width="1"/>
<circle cx="1012.5" cy="604.5" r="6" fill="#7e7e7e" stroke="#4a4a4a" stroke-width="1"/>
<circle cx="1074.2" cy="572.5" r="6" fill="#7e7e7e" stroke="#4a4a4a" stroke-width="1"/>
<circle cx="1074.2" cy="604.5" r="6" fill="#7e7e7e" stroke="#4a4a4a" stroke-width="1"/>
<polygon points="671.6,872 698.6,835 725.6,872" fill="#3c3c3c" />
<polyline points="663.8,874.2 698.6,828 734.4,874.2" fill="none" stroke="#2a2a2a" stroke-width="1.6" stroke-linejoin="round" />
<polyline points="662.4,873.1 698.6,826.2 735.8,873.1" fill="none" stroke="#b0b0b0" stroke-width="2.1" stroke-linejoin="round" />
<polyline points="661,872 698.6,824.4 737.2,872" fill="none" stroke="#101010" stroke-width="1.7" stroke-linejoin="round" />
<polyline points="659.9,871.2 698.6,823.1 738.2,871.2" fill="none" stroke="#4a4a4a" stroke-width="1.0" stroke-linejoin="round" />
<polygon points="985.5,872 1012.5,835 1039.5,872" fill="#3c3c3c" />
<polyline points="977.7,874.2 1012.5,828 1048.3,874.2" fill="none" stroke="#2a2a2a" stroke-width="1.6" stroke-linejoin="round" />
<polyline points="976.3,873.1 1012.5,826.2 1049.7,873.1" fill="none" stroke="#b0b0b0" stroke-width="2.1" stroke-linejoin="round" />
<polyline points="974.9,872 1012.5,824.4 1051.1,872" fill="none" stroke="#101010" stroke-width="1.7" stroke-linejoin="round" />
<polyline points="973.8,871.2 1012.5,823.1 1052.1,871.2" fill="none" stroke="#4a4a4a" stroke-width="1.0" stroke-linejoin="round" />
<path d="M 673 392 Q 673 370 699.5 370 Q 726 370 726 392 L 726 474 L 714 494 L 685 494 L 673 474 Z" fill="url(#slotL)" stroke="none" stroke-width="0" />
<rect x="686" y="380" width="17" height="99" rx="5" fill="#161616" />
<rect x="687.5" y="381.5" width="14" height="96" rx="4" fill="#dadada" />
<rect x="690.5" y="385" width="8" height="89" rx="2" fill="#6a6a6a" />
<polyline points="694.5,386 694.5,473" fill="none" stroke="#dadada" stroke-width="1.6" stroke-linejoin="round" />
<path d="M 985 392 Q 985 370 1011.5 370 Q 1038 370 1038 392 L 1038 477 L 1026 497 L 997 497 L 985 477 Z" fill="url(#slotR)" stroke="none" stroke-width="0" />
<rect x="1007" y="380" width="18" height="100" rx="5" fill="#161616" />
<rect x="1008.5" y="381.5" width="15" height="97" rx="4" fill="#d0d0d0" />
<rect x="1011.5" y="385" width="9" height="90" rx="2" fill="#6a6a6a" />
<polyline points="1016,386 1016,474" fill="none" stroke="#d0d0d0" stroke-width="1.6" stroke-linejoin="round" />
<path d="M 673 703 Q 673 681 699.5 681 Q 726 681 726 703 L 726 786 L 714 806 L 685 806 L 673 786 Z" fill="url(#slotL)" stroke="none" stroke-width="0" />
<rect x="686" y="697" width="16" height="103" rx="5" fill="#161616" />
<rect x="687.5" y="698.5" width="13" height="100" rx="4" fill="#a8a8a8" />
<rect x="690.5" y="702" width="7" height="93" rx="2" fill="#6a6a6a" />
<polyline points="694,703 694,794" fill="none" stroke="#a8a8a8" stroke-width="1.6" stroke-linejoin="round" />
<path d="M 985 705 Q 985 683 1011.5 683 Q 1038 683 1038 705 L 1038 786 L 1026 806 L 997 806 L 985 786 Z" fill="url(#slotR)" stroke="none" stroke-width="0" />
<rect x="1005" y="697" width="20" height="103" rx="5" fill="#161616" />
<rect x="1006.5" y="698.5" width="17" height="100" rx="4" fill="#a0a0a0" />
<rect x="1009.5" y="702" width="11" height="93" rx="2" fill="#6a6a6a" />
<polyline points="1015,703 1015,794" fill="none" stroke="#a0a0a0" stroke-width="1.6" stroke-linejoin="round" />
<circle cx="550" cy="377" r="6.5" fill="url(#hole)" />
<circle cx="550" cy="479" r="6.5" fill="url(#hole)" />
<circle cx="550" cy="560" r="6.5" fill="url(#hole)" />
<circle cx="550" cy="618" r="6.5" fill="url(#hole)" />
<circle cx="550" cy="698" r="6.5" fill="url(#hole)" />
<circle cx="550" cy="800" r="6.5" fill="url(#hole)" />
<circle cx="1160.5" cy="377" r="6.5" fill="url(#hole)" />
<circle cx="1160.5" cy="476" r="6.5" fill="url(#hole)" />
<circle cx="1160.5" cy="559" r="6.5" fill="url(#hole)" />
<circle cx="1160.5" cy="617" r="6.5" fill="url(#hole)" />
<circle cx="1160.5" cy="698" r="6.5" fill="url(#hole)" />
<circle cx="1160.5" cy="800" r="6.5" fill="url(#hole)" />
<circle cx="631" cy="282.6" r="7" fill="url(#hole)" />
<circle cx="758" cy="282.6" r="7" fill="url(#hole)" />
<circle cx="950.6" cy="282.6" r="7" fill="url(#hole)" />
<circle cx="1079.7" cy="282.6" r="7" fill="url(#hole)" />
<circle cx="631" cy="893" r="7" fill="url(#hole)" />
<circle cx="758.6" cy="893" r="7" fill="url(#hole)" />
<circle cx="951" cy="893" r="7" fill="url(#hole)" />
<circle cx="1080" cy="893" r="7" fill="url(#hole)" />
<circle cx="805" cy="287" r="7" fill="#4a4a4a" stroke="#8a8a8a" stroke-width="1"/>
<circle cx="804" cy="286" r="5.5" fill="#333" />
<circle cx="841" cy="300" r="7" fill="#4a4a4a" stroke="#8a8a8a" stroke-width="1"/>
<circle cx="840" cy="299" r="5.5" fill="#333" />
<circle cx="869" cy="300" r="7" fill="#4a4a4a" stroke="#8a8a8a" stroke-width="1"/>
<circle cx="868" cy="299" r="5.5" fill="#333" />
<circle cx="904" cy="287" r="7" fill="#4a4a4a" stroke="#8a8a8a" stroke-width="1"/>
<circle cx="903" cy="286" r="5.5" fill="#333" />
<circle cx="587" cy="282" r="5.5" fill="#111" />
<circle cx="1122.7" cy="283.3" r="5.5" fill="#111" />
<polyline points="820,278 832,310" fill="none" stroke="#1e1e1e" stroke-width="1.5" stroke-linejoin="round" />
<polyline points="890,278 879,310" fill="none" stroke="#1e1e1e" stroke-width="1.5" stroke-linejoin="round" />
<polyline points="854,278 854,311" fill="none" stroke="#1e1e1e" stroke-width="1.5" stroke-linejoin="round" />
<rect x="662" y="264.5" width="65" height="34.5" rx="5" fill="#555" stroke="#1e1e1e" stroke-width="1.5"/>
<rect x="665" y="266" width="59" height="6" rx="2" fill="#7a7a7a" />
<path d="M 686.0 299 L 686.0 286 A 6.5 6.5 0 0 1 699.0 286 L 699.0 299 Z" fill="#3a3a3a" stroke="#141414" stroke-width="1.5" />
<rect x="687" y="299" width="11" height="34" rx="0" fill="url(#cyl)" />
<rect x="982.7" y="264.5" width="62.7" height="34.5" rx="5" fill="#555" stroke="#1e1e1e" stroke-width="1.5"/>
<rect x="985.7" y="266" width="56.7" height="6" rx="2" fill="#7a7a7a" />
<path d="M 1010.5 299 L 1010.5 286 A 6.5 6.5 0 0 1 1023.5 286 L 1023.5 299 Z" fill="#3a3a3a" stroke="#141414" stroke-width="1.5" />
<rect x="1011.5" y="299" width="11" height="34" rx="0" fill="url(#cyl)" />
<rect x="660" y="331.5" width="48" height="27.5" rx="5" fill="#555" stroke="#1a1a1a" stroke-width="1.5"/>
<rect x="666" y="332.5" width="40" height="4.5" rx="2" fill="#767676" />
<path d="M 633.8 337 L 666 337 L 666 358 Q 660 368 650 374 Q 637.8 362 633.8 352 Z" fill="#686868" stroke="#1e1e1e" stroke-width="1.4" />
<polyline points="637.8,339 637.8,364" fill="none" stroke="#3a3a3a" stroke-width="1.8" stroke-linejoin="round" />
<polyline points="644.1,339 644.1,364" fill="none" stroke="#3a3a3a" stroke-width="1.8" stroke-linejoin="round" />
<polyline points="650.4,339 650.4,364" fill="none" stroke="#3a3a3a" stroke-width="1.8" stroke-linejoin="round" />
<polyline points="656.7,339 656.7,364" fill="none" stroke="#3a3a3a" stroke-width="1.8" stroke-linejoin="round" />
<polyline points="663,339 663,364" fill="none" stroke="#3a3a3a" stroke-width="1.8" stroke-linejoin="round" />
<rect x="982.5" y="331.5" width="44" height="27.5" rx="5" fill="#555" stroke="#1a1a1a" stroke-width="1.5"/>
<rect x="988.5" y="332.5" width="36" height="4.5" rx="2" fill="#767676" />
<path d="M 952 337 L 988.5 337 L 988.5 358 Q 982.5 368 969.6 374 Q 956 362 952 352 Z" fill="#686868" stroke="#1e1e1e" stroke-width="1.4" />
<polyline points="956,339 956,364" fill="none" stroke="#3a3a3a" stroke-width="1.8" stroke-linejoin="round" />
<polyline points="963.4,339 963.4,364" fill="none" stroke="#3a3a3a" stroke-width="1.8" stroke-linejoin="round" />
<polyline points="970.8,339 970.8,364" fill="none" stroke="#3a3a3a" stroke-width="1.8" stroke-linejoin="round" />
<polyline points="978.1,339 978.1,364" fill="none" stroke="#3a3a3a" stroke-width="1.8" stroke-linejoin="round" />
<polyline points="985.5,339 985.5,364" fill="none" stroke="#3a3a3a" stroke-width="1.8" stroke-linejoin="round" />
<rect x="525.8" y="408.7" width="33.6" height="30.7" rx="2" fill="#686868" stroke="#1a1a1a" stroke-width="1.5"/>
<rect x="527" y="409.7" width="31" height="3" rx="1" fill="#8e8e8e" />
<circle cx="544.8" cy="424" r="8.5" fill="#5e5e5e" stroke="#161616" stroke-width="2.2"/>
<rect x="559.4" y="421.9" width="35" height="10.9" rx="0" fill="url(#cylV)" />
<path d="M 594.4 420.7 Q 594.4 414.7 602 414.7 L 614 414.7 Q 622 414.7 622 422.7 L 622 455.7 L 594.4 455.7 Z" fill="#6a6a6a" stroke="#1a1a1a" stroke-width="1.4" />
<rect x="616" y="416.7" width="6" height="38" rx="0" fill="#4a4a4a" />
<path d="M 600.2 455.4 L 622 455.4 Q 635 468.7 635.2 474.7 Q 626 488.7 602 491.7 L 600.2 491.7 Z" fill="#6a6a6a" stroke="#1e1e1e" stroke-width="1.4" />
<polyline points="601,458.7 623.5,458.7" fill="none" stroke="#3e3e3e" stroke-width="2" stroke-linejoin="round" />
<polyline points="601,465.5 626.5,465.5" fill="none" stroke="#3e3e3e" stroke-width="2" stroke-linejoin="round" />
<polyline points="601,472.3 629.5,472.3" fill="none" stroke="#3e3e3e" stroke-width="2" stroke-linejoin="round" />
<polyline points="601,479.1 629.5,479.1" fill="none" stroke="#3e3e3e" stroke-width="2" stroke-linejoin="round" />
<polyline points="601,485.9 626.5,485.9" fill="none" stroke="#3e3e3e" stroke-width="2" stroke-linejoin="round" />
<rect x="525.8" y="737" width="33.6" height="30.7" rx="2" fill="#686868" stroke="#1a1a1a" stroke-width="1.5"/>
<rect x="527" y="738" width="31" height="3" rx="1" fill="#8e8e8e" />
<circle cx="544.8" cy="752.3" r="8.5" fill="#5e5e5e" stroke="#161616" stroke-width="2.2"/>
<rect x="559.4" y="750.2" width="35" height="10.9" rx="0" fill="url(#cylV)" />
<path d="M 594.4 749 Q 594.4 743 602 743 L 614 743 Q 622 743 622 751 L 622 784 L 594.4 784 Z" fill="#6a6a6a" stroke="#1a1a1a" stroke-width="1.4" />
<rect x="616" y="745" width="6" height="38" rx="0" fill="#4a4a4a" />
<path d="M 600.2 783.7 L 622 783.7 Q 635 797 635.2 803 Q 626 817 602 820 L 600.2 820 Z" fill="#6a6a6a" stroke="#1e1e1e" stroke-width="1.4" />
<polyline points="601,787 623.5,787" fill="none" stroke="#3e3e3e" stroke-width="2" stroke-linejoin="round" />
<polyline points="601,793.8 626.5,793.8" fill="none" stroke="#3e3e3e" stroke-width="2" stroke-linejoin="round" />
<polyline points="601,800.6 629.5,800.6" fill="none" stroke="#3e3e3e" stroke-width="2" stroke-linejoin="round" />
<polyline points="601,807.4 629.5,807.4" fill="none" stroke="#3e3e3e" stroke-width="2" stroke-linejoin="round" />
<polyline points="601,814.2 626.5,814.2" fill="none" stroke="#3e3e3e" stroke-width="2" stroke-linejoin="round" />
<rect x="1110" y="396" width="29.5" height="22" rx="0" fill="#3a3a3a" />
<rect x="1116.8" y="417" width="22.2" height="18" rx="2" fill="#5a5a5a" stroke="#1a1a1a" stroke-width="1"/>
<rect x="1139.5" y="398" width="6.5" height="52" rx="" fill="#6e6e6e" stroke="#1a1a1a" stroke-width="1"/>
<rect x="1150.8" y="398" width="8.2" height="52" rx="" fill="#747474" stroke="#1a1a1a" stroke-width="1"/>
<rect x="1159" y="411" width="19" height="29" rx="0" fill="#0c0c0c" />
<rect x="1178" y="409" width="8" height="30" rx="0" fill="#6a6a6a" />
<polyline points="1133,389 1140.5,389 1140.5,396" fill="none" stroke="#f2f2f2" stroke-width="2.4" stroke-linejoin="round" />
<rect x="1110" y="726" width="29.5" height="22" rx="0" fill="#3a3a3a" />
<rect x="1116.8" y="747" width="22.2" height="18" rx="2" fill="#5a5a5a" stroke="#1a1a1a" stroke-width="1"/>
<rect x="1139.5" y="728" width="6.5" height="52" rx="" fill="#6e6e6e" stroke="#1a1a1a" stroke-width="1"/>
<rect x="1150.8" y="728" width="8.2" height="52" rx="" fill="#747474" stroke="#1a1a1a" stroke-width="1"/>
<rect x="1159" y="741" width="19" height="29" rx="0" fill="#0c0c0c" />
<rect x="1178" y="739" width="8" height="30" rx="0" fill="#6a6a6a" />
<polyline points="1133,719 1140.5,719 1140.5,726" fill="none" stroke="#f2f2f2" stroke-width="2.4" stroke-linejoin="round" />
<path d="M 548 504 Q 590 500 606 514 L 613 528 L 613 540 L 586 540 L 574 526 L 548 524 Z" fill="#767676" stroke="#1a1a1a" stroke-width="1.2" />
<path d="M 560 506 Q 592 504 604 516 L 610 528 L 588 528 Z" fill="#989898" stroke="none" stroke-width="0" />
<path d="M 548 664 L 574 661 L 586 658 L 613 658 L 613 668 Q 610 684 590 686 L 548 688 Z" fill="#666" stroke="#1a1a1a" stroke-width="1.2" />
<rect x="568" y="537" width="18" height="124" rx="0" fill="#383838" />
<rect x="585.6" y="537.5" width="27.7" height="123.5" rx="" fill="url(#hgripL)" stroke="#1a1a1a" stroke-width="1.2"/>
<path d="M 1168 504 Q 1126 500 1108 514 L 1098 528 L 1098 540 L 1125 540 L 1140 526 L 1168 524 Z" fill="#767676" stroke="#1a1a1a" stroke-width="1.2" />
<path d="M 1158 506 Q 1126 504 1110 516 L 1103 528 L 1124 528 Z" fill="#949494" stroke="none" stroke-width="0" />
<path d="M 1168 662 L 1140 661 L 1125 658 L 1098 658 L 1098 668 Q 1102 684 1122 686 L 1168 688 Z" fill="#666" stroke="#1a1a1a" stroke-width="1.2" />
<rect x="1125" y="537" width="18" height="124" rx="0" fill="#363636" />
<rect x="1097.7" y="532" width="27.2" height="129" rx="" fill="url(#hgripR)" stroke="#1a1a1a" stroke-width="1.2"/>
<rect x="1143" y="537" width="27" height="124" rx="0" fill="#6a6a6a" />
<circle cx="1159.3" cy="558.9" r="6.5" fill="url(#hole)" />
<circle cx="1159.3" cy="617.3" r="6.5" fill="url(#hole)" />
<polygon points="539,273 556,273 556,284 539,300" fill="#6a6a6a" />
<polygon points="537,309 560.2,282.1 568.2,282.6 576.3,290.2 553,318.8 539.6,318" fill="#efefef" stroke="#777" stroke-width="1.5"/>
<circle cx="561.5" cy="295.5" r="6.3" fill="#0c0c0c" />
<polygon points="1152,270 1170,270 1177,288 1160,289" fill="#6a6a6a" />
<polygon points="1134.7,290.8 1141.6,282.8 1151.6,283.8 1175.4,307.7 1174.4,315.6 1159.5,317.6" fill="#efefef" stroke="#777" stroke-width="1.5"/>
<circle cx="1148.6" cy="295.7" r="6.3" fill="#0c0c0c" />
<polygon points="536.2,866.2 547,857 576.2,887.8 565.4,895.5 545,894 537,882" fill="#efefef" stroke="#777" stroke-width="1.5"/>
<circle cx="561.6" cy="883.2" r="6.3" fill="#0c0c0c" />
<polygon points="1177,866 1166,857 1135,886 1146,895 1168,894 1176,882" fill="#efefef" stroke="#777" stroke-width="1.5"/>
<circle cx="1150" cy="883" r="6.3" fill="#0c0c0c" />
<rect x="684" y="851" width="18" height="21" rx="0" fill="url(#cyl)" />
<rect x="665.5" y="872.4" width="57" height="38.6" rx="2" fill="#7a7a7a" stroke="#2a2a2a" stroke-width="1.5"/>
<rect x="667.5" y="873.5" width="53" height="6.5" rx="2" fill="#9a9a9a" />
<polyline points="715.5,875 715.5,910" fill="none" stroke="#5a5a5a" stroke-width="1.5" stroke-linejoin="round" />
<rect x="677.5" y="905" width="30" height="6" rx="2" fill="#1a1a1a" />
<rect x="1003" y="851" width="18" height="21" rx="0" fill="url(#cyl)" />
<rect x="983.7" y="872.4" width="57" height="38.6" rx="2" fill="#7a7a7a" stroke="#2a2a2a" stroke-width="1.5"/>
<rect x="985.7" y="873.5" width="53" height="6.5" rx="2" fill="#9a9a9a" />
<polyline points="1033.7,875 1033.7,910" fill="none" stroke="#5a5a5a" stroke-width="1.5" stroke-linejoin="round" />
<rect x="995.7" y="905" width="30" height="6" rx="2" fill="#1a1a1a" />
<polyline points="664,873 668,873 668,864" fill="none" stroke="#e0e0e0" stroke-width="2" stroke-linejoin="round" />
<polyline points="1050,873 1046,873 1046,862" fill="none" stroke="#e0e0e0" stroke-width="2" stroke-linejoin="round" />
<polygon points="772,846 928,846 948,880 952,900 760,900 764,880" fill="#2e2e2e" />
<polyline points="832,850 832,898" fill="none" stroke="#1a1a1a" stroke-width="1.5" stroke-linejoin="round" />
<polyline points="852,850 852,898" fill="none" stroke="#1a1a1a" stroke-width="1.5" stroke-linejoin="round" />
<polyline points="872,850 872,898" fill="none" stroke="#1a1a1a" stroke-width="1.5" stroke-linejoin="round" />
<polyline points="812,850 820,898" fill="none" stroke="#1a1a1a" stroke-width="1.5" stroke-linejoin="round" />
<polyline points="892,850 884,898" fill="none" stroke="#1a1a1a" stroke-width="1.5" stroke-linejoin="round" />
<circle cx="805" cy="888" r="6" fill="#444" />
<circle cx="903" cy="888" r="6" fill="#444" />
<circle cx="835" cy="878" r="6" fill="#444" />
<circle cx="872" cy="878" r="6" fill="#444" />
<path d="M 806 846 Q 804 890 758 893" fill="none" stroke="#727272" stroke-width="10" />
<path d="M 906 846 Q 908 890 952 893" fill="none" stroke="#727272" stroke-width="10" />
<path d="M 800 846 Q 798 884 758 887" fill="none" stroke="#1a1a1a" stroke-width="1.5" />
<path d="M 912 846 Q 914 884 952 887" fill="none" stroke="#1a1a1a" stroke-width="1.5" />
<rect x="792" y="207" width="120" height="30" rx="3" fill="url(#hbar)" />
<path d="M 797 237 Q 809 224 821 237 Z" fill="#0c0c0c" stroke="none" stroke-width="0" />
<path d="M 821 237 Q 833 224 845 237 Z" fill="#0c0c0c" stroke="none" stroke-width="0" />
<path d="M 845 237 Q 857 224 869 237 Z" fill="#0c0c0c" stroke="none" stroke-width="0" />
<path d="M 869 237 Q 881 224 893 237 Z" fill="#0c0c0c" stroke="none" stroke-width="0" />
<path d="M 893 237 Q 905 224 917 237 Z" fill="#0c0c0c" stroke="none" stroke-width="0" />
<path d="M 779 287 L 779 228 Q 779 217 790 217 L 796 217" fill="none" stroke="#efefef" stroke-width="7" stroke-linecap="round"/>
<path d="M 931 287 L 931 228 Q 931 217 920 217 L 912 217" fill="none" stroke="#efefef" stroke-width="7" stroke-linecap="round"/>
<circle cx="778" cy="287" r="6" fill="#f6f6f6" stroke="#111" stroke-width="1.8"/>
<circle cx="931" cy="287" r="6" fill="#f6f6f6" stroke="#111" stroke-width="1.8"/>
<rect x="771" y="311" width="158" height="537" rx="9" fill="url(#doorg)" stroke="#1a1a1a" stroke-width="2"/>
<polyline points="800,314 800,411.8" fill="none" stroke="#1c1c1c" stroke-width="1.6" stroke-linejoin="round" />
<polyline points="804.5,314 804.5,411.8" fill="none" stroke="#1c1c1c" stroke-width="1.6" stroke-linejoin="round" />
<polyline points="802.2,314 802.2,411.8" fill="none" stroke="#b6b6b6" stroke-width="1.2" stroke-linejoin="round" />
<polyline points="823,314 823,399.1" fill="none" stroke="#1c1c1c" stroke-width="1.6" stroke-linejoin="round" />
<polyline points="827.5,314 827.5,399.1" fill="none" stroke="#1c1c1c" stroke-width="1.6" stroke-linejoin="round" />
<polyline points="825.2,314 825.2,399.1" fill="none" stroke="#b6b6b6" stroke-width="1.2" stroke-linejoin="round" />
<polyline points="846,314 846,386.4" fill="none" stroke="#1c1c1c" stroke-width="1.6" stroke-linejoin="round" />
<polyline points="850.5,314 850.5,386.4" fill="none" stroke="#1c1c1c" stroke-width="1.6" stroke-linejoin="round" />
<polyline points="848.2,314 848.2,386.4" fill="none" stroke="#b6b6b6" stroke-width="1.2" stroke-linejoin="round" />
<polyline points="874,314 874,370.9" fill="none" stroke="#1c1c1c" stroke-width="1.6" stroke-linejoin="round" />
<polyline points="878.5,314 878.5,370.9" fill="none" stroke="#1c1c1c" stroke-width="1.6" stroke-linejoin="round" />
<polyline points="876.2,314 876.2,370.9" fill="none" stroke="#b6b6b6" stroke-width="1.2" stroke-linejoin="round" />
<polyline points="897,314 897,358.2" fill="none" stroke="#1c1c1c" stroke-width="1.6" stroke-linejoin="round" />
<polyline points="901.5,314 901.5,358.2" fill="none" stroke="#1c1c1c" stroke-width="1.6" stroke-linejoin="round" />
<polyline points="899.2,314 899.2,358.2" fill="none" stroke="#b6b6b6" stroke-width="1.2" stroke-linejoin="round" />
<circle cx="852" cy="342" r="5" fill="#a0a0a0" stroke="#1c1c1c" stroke-width="1.5"/>
<circle cx="804" cy="362" r="4" fill="#a0a0a0" stroke="#1c1c1c" stroke-width="1.5"/>
<polyline points="806,760 806,846" fill="none" stroke="#1c1c1c" stroke-width="1.6" stroke-linejoin="round" />
<polyline points="821,760 821,846" fill="none" stroke="#1c1c1c" stroke-width="1.6" stroke-linejoin="round" />
<polyline points="879,760 879,846" fill="none" stroke="#1c1c1c" stroke-width="1.6" stroke-linejoin="round" />
<polyline points="896,760 896,846" fill="none" stroke="#1c1c1c" stroke-width="1.6" stroke-linejoin="round" />
<polygon points="780,430 921,352 921,408.5 898,433.6 898,676.6 921,693.8 921,740 780,817.7 780,765.9 804.6,742.8 804.6,499 780,481" fill="#959595" stroke="#2a2a2a" stroke-width="1.8"/>
<polygon points="780,430 921,352 921,343 786,420" fill="#5e5e5e" />
<polyline points="786,420 921,343" fill="none" stroke="#2a2a2a" stroke-width="1.2" stroke-linejoin="round" />
<polygon points="780,817.7 921,740 921,748 780,826" fill="#333" />
<polyline points="781,431 781,480" fill="none" stroke="#3a3a3a" stroke-width="2" stroke-linejoin="round" />
<polyline points="805.6,500 805.6,742" fill="none" stroke="#3a3a3a" stroke-width="2" stroke-linejoin="round" />
<polygon points="822.6,447.5 877,419.6 877,727 822.6,757" fill="#8a8a8a" stroke="#1e1e1e" stroke-width="2"/>
<polyline points="827,446 827,753" fill="none" stroke="#1e1e1e" stroke-width="1.4" stroke-linejoin="round" />
<polyline points="872.5,422 872.5,729" fill="none" stroke="#1e1e1e" stroke-width="1.4" stroke-linejoin="round" />
<polyline points="829,457 870,432" fill="none" stroke="#1a1a1a" stroke-width="1.8" stroke-linejoin="round" />
<polyline points="829,459 870,434" fill="none" stroke="#b0b0b0" stroke-width="1" stroke-linejoin="round" />
<polyline points="829,465 870,440" fill="none" stroke="#1a1a1a" stroke-width="1.8" stroke-linejoin="round" />
<polyline points="829,467 870,442" fill="none" stroke="#b0b0b0" stroke-width="1" stroke-linejoin="round" />
<polyline points="829,473 870,448" fill="none" stroke="#1a1a1a" stroke-width="1.8" stroke-linejoin="round" />
<polyline points="829,475 870,450" fill="none" stroke="#b0b0b0" stroke-width="1" stroke-linejoin="round" />
<polyline points="829,525 870,500" fill="none" stroke="#1a1a1a" stroke-width="1.8" stroke-linejoin="round" />
<polyline points="829,527 870,502" fill="none" stroke="#b0b0b0" stroke-width="1" stroke-linejoin="round" />
<polyline points="829,533 870,508" fill="none" stroke="#1a1a1a" stroke-width="1.8" stroke-linejoin="round" />
<polyline points="829,535 870,510" fill="none" stroke="#b0b0b0" stroke-width="1" stroke-linejoin="round" />
<polyline points="829,541 870,516" fill="none" stroke="#1a1a1a" stroke-width="1.8" stroke-linejoin="round" />
<polyline points="829,543 870,518" fill="none" stroke="#b0b0b0" stroke-width="1" stroke-linejoin="round" />
<polyline points="829,665 870,640" fill="none" stroke="#1a1a1a" stroke-width="1.8" stroke-linejoin="round" />
<polyline points="829,667 870,642" fill="none" stroke="#b0b0b0" stroke-width="1" stroke-linejoin="round" />
<polyline points="829,673 870,648" fill="none" stroke="#1a1a1a" stroke-width="1.8" stroke-linejoin="round" />
<polyline points="829,675 870,650" fill="none" stroke="#b0b0b0" stroke-width="1" stroke-linejoin="round" />
<polyline points="829,681 870,656" fill="none" stroke="#1a1a1a" stroke-width="1.8" stroke-linejoin="round" />
<polyline points="829,683 870,658" fill="none" stroke="#b0b0b0" stroke-width="1" stroke-linejoin="round" />
<polyline points="829,725 870,700" fill="none" stroke="#1a1a1a" stroke-width="1.8" stroke-linejoin="round" />
<polyline points="829,727 870,702" fill="none" stroke="#b0b0b0" stroke-width="1" stroke-linejoin="round" />
<polyline points="829,733 870,708" fill="none" stroke="#1a1a1a" stroke-width="1.8" stroke-linejoin="round" />
<polyline points="829,735 870,710" fill="none" stroke="#b0b0b0" stroke-width="1" stroke-linejoin="round" />
<polyline points="829,741 870,716" fill="none" stroke="#1a1a1a" stroke-width="1.8" stroke-linejoin="round" />
<polyline points="829,743 870,718" fill="none" stroke="#b0b0b0" stroke-width="1" stroke-linejoin="round" />
<polygon points="833,484 868,464 868,482 833,502" fill="#8e8e8e" stroke="#1e1e1e" stroke-width="1.5"/>
<polygon points="833.4,694 869.4,676.6 869.4,696 833.4,714" fill="#8e8e8e" stroke="#1e1e1e" stroke-width="1.5"/>
<circle cx="901.9" cy="393.2" r="10.5" fill="#909090" stroke="#2a2a2a" stroke-width="1.5"/>
<polyline points="895.9,393.2 907.9,393.2" fill="none" stroke="#2a2a2a" stroke-width="2.5" stroke-linejoin="round" />
<polyline points="901.9,387.2 901.9,399.2" fill="none" stroke="#2a2a2a" stroke-width="2.5" stroke-linejoin="round" />
<circle cx="799" cy="461.4" r="10.5" fill="#909090" stroke="#2a2a2a" stroke-width="1.5"/>
<polyline points="793,461.4 805,461.4" fill="none" stroke="#2a2a2a" stroke-width="2.5" stroke-linejoin="round" />
<polyline points="799,455.4 799,467.4" fill="none" stroke="#2a2a2a" stroke-width="2.5" stroke-linejoin="round" />
<circle cx="902.6" cy="712.6" r="10.5" fill="#909090" stroke="#2a2a2a" stroke-width="1.5"/>
<polyline points="896.6,712.6 908.6,712.6" fill="none" stroke="#2a2a2a" stroke-width="2.5" stroke-linejoin="round" />
<polyline points="902.6,706.6 902.6,718.6" fill="none" stroke="#2a2a2a" stroke-width="2.5" stroke-linejoin="round" />
<circle cx="798.9" cy="781.7" r="10.5" fill="#909090" stroke="#2a2a2a" stroke-width="1.5"/>
<polyline points="792.9,781.7 804.9,781.7" fill="none" stroke="#2a2a2a" stroke-width="2.5" stroke-linejoin="round" />
<polyline points="798.9,775.7 798.9,787.7" fill="none" stroke="#2a2a2a" stroke-width="2.5" stroke-linejoin="round" />
<polyline points="849,790 849,846" fill="none" stroke="#1e1e1e" stroke-width="1.5" stroke-linejoin="round" />
<polyline points="826,817 872,817" fill="none" stroke="#1e1e1e" stroke-width="1.5" stroke-linejoin="round" />
<circle cx="849" cy="817" r="14" fill="#8e8e8e" stroke="#1e1e1e" stroke-width="2"/>
<circle cx="849" cy="817" r="9" fill="#8e8e8e" stroke="#2a2a2a" stroke-width="1.2"/>
<circle cx="845" cy="817" r="2.2" fill="#111" />
<circle cx="853" cy="817" r="2.2" fill="#111" />
<rect x="750" y="433" width="21" height="18" rx="2" fill="#1e1e1e" />
<polygon points="739,400 750,394 756,437 747,441" fill="url(#blue)" />
<rect x="758" y="390" width="7" height="44" rx="2" fill="#f0f0f0" stroke="#333" stroke-width="1"/>
<polygon points="930,382 960,392 962,440 930,440" fill="#9e9e9e" />
<rect x="929" y="438" width="33" height="14" rx="2" fill="#1e1e1e" />
<polygon points="971,400 962,394 954,437 963,441" fill="url(#blue)" />
<rect x="750" y="708" width="21" height="16" rx="2" fill="#1e1e1e" />
<polygon points="741,726 752,720 758,762 749,766" fill="#d8d8d8" />
<rect x="758" y="722" width="7" height="46" rx="2" fill="#e8e8e8" stroke="#333" stroke-width="1"/>
<polygon points="930,735 960,725 962,770 930,770" fill="#949494" />
<rect x="929" y="718" width="33" height="16" rx="2" fill="#1e1e1e" />
<polygon points="967,726 958,720 952,762 961,766" fill="#dcdcdc" />
<rect x="933" y="675" width="12" height="33" rx="2" fill="#e0e0e0" stroke="#333" stroke-width="1"/>
<rect x="933" y="455" width="12" height="25" rx="2" fill="#e0e0e0" stroke="#333" stroke-width="1"/>
<circle cx="851" cy="139" r="6.3" fill="#3a3a3a" />
<circle cx="849" cy="154" r="6.3" fill="#3a3a3a" />
<circle cx="847" cy="169" r="6.3" fill="#3a3a3a" />
<circle cx="846" cy="184" r="6.3" fill="#3a3a3a" />
<circle cx="845" cy="198" r="6.3" fill="#3a3a3a" />
<circle cx="851" cy="139" r="3.8" fill="#e5173f" />
<circle cx="849" cy="154" r="3.8" fill="#e5173f" />
<circle cx="847" cy="169" r="3.8" fill="#e5173f" />
<circle cx="846" cy="184" r="3.8" fill="#e5173f" />
<circle cx="845" cy="198" r="3.8" fill="#e5173f" />
<polygon points="828,209 860,202 851,225" fill="#e5173f" />
<circle cx="419" cy="280.5" r="6.3" fill="#3a3a3a" />
<circle cx="430" cy="273" r="6.3" fill="#3a3a3a" />
<circle cx="443" cy="266.3" r="6.3" fill="#3a3a3a" />
<circle cx="457" cy="260.6" r="6.3" fill="#3a3a3a" />
<circle cx="470" cy="256.6" r="6.3" fill="#3a3a3a" />
<circle cx="484" cy="253.5" r="6.3" fill="#3a3a3a" />
<circle cx="498.5" cy="252.6" r="6.3" fill="#3a3a3a" />
<circle cx="512.7" cy="253" r="6.3" fill="#3a3a3a" />
<circle cx="419" cy="280.5" r="3.8" fill="#e5173f" />
<circle cx="430" cy="273" r="3.8" fill="#e5173f" />
<circle cx="443" cy="266.3" r="3.8" fill="#e5173f" />
<circle cx="457" cy="260.6" r="3.8" fill="#e5173f" />
<circle cx="470" cy="256.6" r="3.8" fill="#e5173f" />
<circle cx="484" cy="253.5" r="3.8" fill="#e5173f" />
<circle cx="498.5" cy="252.6" r="3.8" fill="#e5173f" />
<circle cx="512.7" cy="253" r="3.8" fill="#e5173f" />
<polygon points="522.4,238.4 539.7,258.3 516.7,270.7" fill="#e5173f" />
<circle cx="1287" cy="338" r="6.1" fill="#3a3a3a" />
<circle cx="1280.5" cy="351.6" r="6.1" fill="#3a3a3a" />
<circle cx="1274" cy="362.4" r="6.1" fill="#3a3a3a" />
<circle cx="1263" cy="373.2" r="6.1" fill="#3a3a3a" />
<circle cx="1253.4" cy="382.2" r="6.1" fill="#3a3a3a" />
<circle cx="1241.3" cy="389.5" r="6.1" fill="#3a3a3a" />
<circle cx="1229" cy="396.3" r="6.1" fill="#3a3a3a" />
<circle cx="1217" cy="401.7" r="6.1" fill="#3a3a3a" />
<circle cx="1287" cy="338" r="3.6" fill="#e5173f" />
<circle cx="1280.5" cy="351.6" r="3.6" fill="#e5173f" />
<circle cx="1274" cy="362.4" r="3.6" fill="#e5173f" />
<circle cx="1263" cy="373.2" r="3.6" fill="#e5173f" />
<circle cx="1253.4" cy="382.2" r="3.6" fill="#e5173f" />
<circle cx="1241.3" cy="389.5" r="3.6" fill="#e5173f" />
<circle cx="1229" cy="396.3" r="3.6" fill="#e5173f" />
<circle cx="1217" cy="401.7" r="3.6" fill="#e5173f" />
<polygon points="1204.7,389.5 1191.1,407.1 1215.5,419.3" fill="#e5173f" />
<circle cx="482.6" cy="684" r="6.1" fill="#3a3a3a" />
<circle cx="486.8" cy="668.6" r="6.1" fill="#3a3a3a" />
<circle cx="493.8" cy="654.5" r="6.1" fill="#3a3a3a" />
<circle cx="500.9" cy="641.9" r="6.1" fill="#3a3a3a" />
<circle cx="509.3" cy="629.2" r="6.1" fill="#3a3a3a" />
<circle cx="519.2" cy="618" r="6.1" fill="#3a3a3a" />
<circle cx="482.6" cy="684" r="3.6" fill="#e5173f" />
<circle cx="486.8" cy="668.6" r="3.6" fill="#e5173f" />
<circle cx="493.8" cy="654.5" r="3.6" fill="#e5173f" />
<circle cx="500.9" cy="641.9" r="3.6" fill="#e5173f" />
<circle cx="509.3" cy="629.2" r="3.6" fill="#e5173f" />
<circle cx="519.2" cy="618" r="3.6" fill="#e5173f" />
<polygon points="514.9,601 544.5,605.3 537.4,627.8" fill="#e5173f" />
<rect x="1177" y="714" width="91" height="15" rx="0" fill="#3e3e3e" />
<circle cx="1263.7" cy="720.5" r="4.8" fill="#e5173f" />
<circle cx="1249.5" cy="721.2" r="4.7" fill="#e5173f" />
<circle cx="1235.3" cy="721.2" r="4.6" fill="#e5173f" />
<circle cx="1221" cy="721.2" r="4.6" fill="#e5173f" />
<circle cx="1206.9" cy="721.2" r="4.5" fill="#e5173f" />
<circle cx="1192.6" cy="721.2" r="4.5" fill="#e5173f" />
<circle cx="1178.4" cy="720.5" r="4.4" fill="#e5173f" />
<circle cx="1164.2" cy="719.4" r="4.3" fill="#e5173f" />
<circle cx="1150" cy="718.3" r="4.3" fill="#e5173f" />
<circle cx="1135.8" cy="717.2" r="4.2" fill="#e5173f" />
<circle cx="1121.6" cy="715.7" r="4.2" fill="#e5173f" />
<circle cx="1107.8" cy="713.9" r="4.1" fill="#e5173f" />
<circle cx="1093.5" cy="711.7" r="4" fill="#e5173f" />
<circle cx="1080" cy="709.5" r="4" fill="#e5173f" />
<circle cx="1066.2" cy="706.3" r="3.9" fill="#e5173f" />
<circle cx="1052.6" cy="703.6" r="3.9" fill="#e5173f" />
<circle cx="1038.4" cy="699.7" r="3.8" fill="#e5173f" />
<circle cx="1024.2" cy="696.4" r="3.7" fill="#e5173f" />
<circle cx="1011" cy="692" r="3.7" fill="#e5173f" />
<circle cx="998" cy="687.7" r="3.6" fill="#e5173f" />
<circle cx="983.8" cy="683.3" r="3.6" fill="#e5173f" />
<circle cx="971" cy="677.8" r="3.5" fill="#e5173f" />
<circle cx="957.5" cy="672.4" r="3.4" fill="#e5173f" />
<circle cx="945.5" cy="666.4" r="3.4" fill="#e5173f" />
<circle cx="932.3" cy="660" r="3.3" fill="#e5173f" />
<circle cx="920.3" cy="652.7" r="3.3" fill="#e5173f" />
<circle cx="908.3" cy="645" r="3.2" fill="#e5173f" />
<polygon points="887.5,629.7 911.6,628.6 893,652.7" fill="#e5173f" />
</svg>
<div class="pill" style="left:588px;top:34px;width:570px;height:94px;"></div>
<div class="pill" style="left:40px;top:248px;width:376px;height:92px;"></div>
<div class="pill" style="left:1270px;top:262px;width:394px;height:94px;"></div>
<div class="pill" style="left:40px;top:672px;width:459px;height:94px;"></div>
<div class="pill" style="left:1268px;top:675.5px;width:606px;height:124px;"></div>
<div class="t" style="left:644px;top:44px;"><div style="letter-spacing:2.11px">Single person quick</div><div style="letter-spacing:2.34px">installation and maintenance</div></div>
<div class="t" style="left:70px;top:252.5px;"><div style="letter-spacing:2.66px">Anti-collision</div><div style="letter-spacing:2.84px">corner protector</div></div>
<div class="t" style="left:1326px;top:270px;"><div style="letter-spacing:2.19px">Customizable</div><div style="letter-spacing:2.3px">inner arc housing</div></div>
<div class="t" style="left:65px;top:682.5px;"><div style="letter-spacing:2.6px">High structural strength,</div><div style="letter-spacing:2.73px">Hard to deform.</div></div>
<div class="t" style="left:1309px;top:677px;"><div style="letter-spacing:2.44px">Opening this door provides</div><div style="letter-spacing:2.19px">access to the power supply</div><div style="letter-spacing:2.06px">unit, receiving card and cables.</div></div>
</div></body></html>
